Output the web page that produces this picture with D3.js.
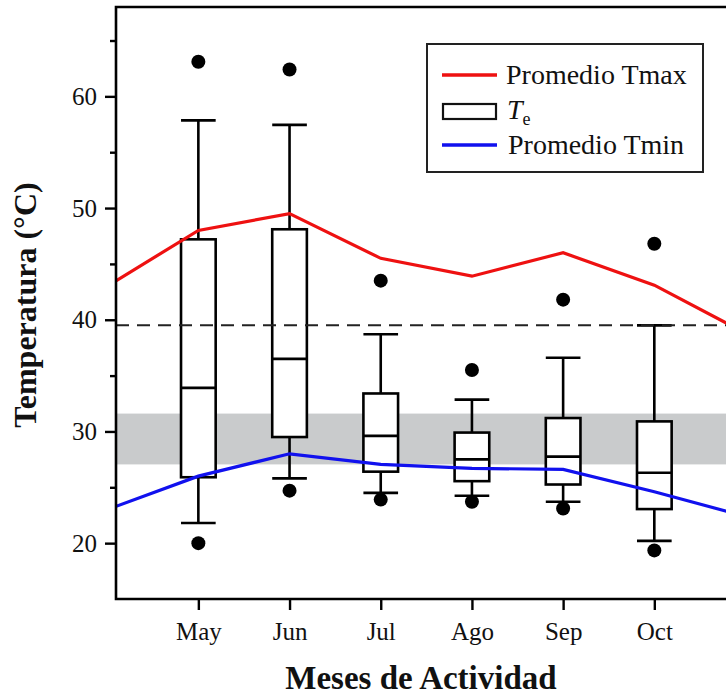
<!DOCTYPE html>
<html>
<head>
<meta charset="utf-8">
<script src="https://cdn.jsdelivr.net/npm/d3@7"></script>
<style>
  html, body { margin: 0; padding: 0; background: #fff; }
  svg { display: block; }
  text { font-family: "Liberation Serif", "DejaVu Serif", serif; fill: #111; }
</style>
</head>
<body>
<div id="chart"></div>
<script>
// ---- Data ----
const months = ["May", "Jun", "Jul", "Ago", "Sep", "Oct"];
const whiskerLow  = [21.8, 25.8, 24.5, 24.25, 23.7, 20.2];
const q1          = [25.9, 29.5, 26.4, 25.55, 25.25, 23.05];
const medians     = [33.9, 36.5, 29.6, 27.5, 27.75, 26.3];
const q3          = [47.2, 48.1, 33.4, 29.9, 31.2, 30.9];
const whiskerHigh = [57.85, 57.45, 38.7, 32.85, 36.6, 39.5];
const outlierLow  = [20.0, 24.7, 23.9, 23.7, 23.1, 19.35];
const outlierHigh = [63.1, 62.4, 43.5, 35.5, 41.8, 46.8];

// monthly mean lines (extend one month either side, clipped by the plot)
const lineMonthIndex = [-1, 0, 1, 2, 3, 4, 5, 6];
const tmaxMean = [43.0, 48.0, 49.5, 45.5, 43.9, 46.0, 43.1, 38.8];
const tminMean = [23.0, 26.0, 28.0, 27.05, 26.7, 26.6, 24.6, 22.4];

const bandRange = [27.05, 31.6];
const refLine = 39.5;
const yMajorTicks = [20, 30, 40, 50, 60];
const yMinorTicks = [25, 35, 45, 55, 65];
const legendLabels = ["Promedio Tmax", "T", "Promedio Tmin"];

// ---- Layout ----
const W = 726, H = 695;
const m = { left: 116, top: 7, right: 0, bottom: 96 };
const pw = W - m.left - m.right, ph = H - m.top - m.bottom;

const svg = d3.select("#chart").append("svg").attr("width", W).attr("height", H);

const x = d3.scaleLinear().domain([-0.903, 5.786]).range([m.left, m.left + pw]);
const y = d3.scaleLinear().domain([15, 68]).range([m.top + ph, m.top]);

svg.append("clipPath").attr("id", "clip")
  .append("rect").attr("x", m.left).attr("y", m.top).attr("width", pw).attr("height", ph);

const plot = svg.append("g").attr("clip-path", "url(#clip)");

// gray band
plot.append("rect")
  .attr("x", m.left).attr("width", pw)
  .attr("y", y(bandRange[1])).attr("height", y(bandRange[0]) - y(bandRange[1]))
  .attr("fill", "#c9cbcc");

// boxes
const boxW = x(0.19) - x(-0.19);
const sw = 2.6;
months.forEach((mo, i) => {
  const cx = x(i);
  const g = plot.append("g");
  g.append("line").attr("x1", cx).attr("x2", cx).attr("y1", y(whiskerHigh[i])).attr("y2", y(q3[i]))
    .attr("stroke", "#000").attr("stroke-width", sw);
  g.append("line").attr("x1", cx).attr("x2", cx).attr("y1", y(q1[i])).attr("y2", y(whiskerLow[i]))
    .attr("stroke", "#000").attr("stroke-width", sw);
  [whiskerHigh[i], whiskerLow[i]].forEach(v => {
    g.append("line").attr("x1", cx - boxW / 2).attr("x2", cx + boxW / 2)
      .attr("y1", y(v)).attr("y2", y(v)).attr("stroke", "#000").attr("stroke-width", sw);
  });
  g.append("rect").attr("x", cx - boxW / 2).attr("width", boxW)
    .attr("y", y(q3[i])).attr("height", y(q1[i]) - y(q3[i]))
    .attr("fill", "#fff").attr("stroke", "#000").attr("stroke-width", sw);
  g.append("line").attr("x1", cx - boxW / 2).attr("x2", cx + boxW / 2)
    .attr("y1", y(medians[i])).attr("y2", y(medians[i])).attr("stroke", "#000").attr("stroke-width", sw);
  [outlierHigh[i], outlierLow[i]].forEach(v => {
    g.append("circle").attr("cx", cx).attr("cy", y(v)).attr("r", 7).attr("fill", "#000");
  });
});

// dashed reference line
plot.append("line").attr("x1", m.left).attr("x2", m.left + pw)
  .attr("y1", y(refLine)).attr("y2", y(refLine))
  .attr("stroke", "#222").attr("stroke-width", 2).attr("stroke-dasharray", "13,8");

// mean lines
const lineGen = vals => d3.line().x((d, i) => x(lineMonthIndex[i])).y(d => y(d))(vals);
plot.append("path").attr("d", lineGen(tmaxMean)).attr("fill", "none")
  .attr("stroke", "#ee1111").attr("stroke-width", 3.2);
plot.append("path").attr("d", lineGen(tminMean)).attr("fill", "none")
  .attr("stroke", "#1111ee").attr("stroke-width", 3.2);

// frame: left axis, top, bottom
const frame = svg.append("g").attr("stroke", "#000").attr("stroke-width", 2.6).attr("fill", "none");
frame.append("path").attr("d", `M${W},${m.top}H${m.left}V${m.top + ph}H${W}`);

// y axis ticks
const yAxis = svg.append("g").attr("transform", `translate(${m.left},0)`)
  .call(d3.axisLeft(y).tickValues(yMajorTicks).tickSize(11).tickPadding(8).tickFormat(d3.format("d")));
yAxis.select(".domain").remove();
yAxis.selectAll(".tick line").attr("stroke", "#000").attr("stroke-width", 2.4);
yAxis.selectAll(".tick text").style("font-size", "25px").style("font-family", "Liberation Serif").attr("fill", "#222");

const yMinor = svg.append("g").attr("transform", `translate(${m.left},0)`)
  .call(d3.axisLeft(y).tickValues(yMinorTicks).tickSize(6).tickFormat(""));
yMinor.select(".domain").remove();
yMinor.selectAll(".tick line").attr("stroke", "#000").attr("stroke-width", 2.4);

// x axis ticks
const xAxis = svg.append("g").attr("transform", `translate(0,${m.top + ph})`)
  .call(d3.axisBottom(x).tickValues(d3.range(months.length)).tickSize(11).tickPadding(12)
    .tickFormat(i => months[i]));
xAxis.select(".domain").remove();
xAxis.selectAll(".tick line").attr("stroke", "#000").attr("stroke-width", 2.4);
xAxis.selectAll(".tick text").style("font-size", "25px").style("font-family", "Liberation Serif").attr("fill", "#222");

// axis titles
svg.append("text").attr("x", (m.left + W) / 2).attr("y", 689)
  .attr("text-anchor", "middle").style("font-size", "33px").style("font-weight", "bold")
  .text("Meses de Actividad");
svg.append("text").attr("transform", `translate(36,305) rotate(-90)`)
  .attr("text-anchor", "middle").style("font-size", "32px").style("font-weight", "bold")
  .text("Temperatura (°C)");

// legend
const lg = svg.append("g");
lg.append("rect").attr("x", 427).attr("y", 44).attr("width", 276).attr("height", 128)
  .attr("fill", "#fff").attr("stroke", "#222").attr("stroke-width", 2);
lg.append("line").attr("x1", 442).attr("x2", 497).attr("y1", 75).attr("y2", 75)
  .attr("stroke", "#ee1111").attr("stroke-width", 3.5);
lg.append("rect").attr("x", 443).attr("y", 104).attr("width", 53).attr("height", 15)
  .attr("fill", "#fff").attr("stroke", "#111").attr("stroke-width", 2.2);
lg.append("line").attr("x1", 442).attr("x2", 497).attr("y1", 145).attr("y2", 145)
  .attr("stroke", "#1111ee").attr("stroke-width", 3.5);
lg.append("text").attr("x", 506).attr("y", 84).style("font-size", "28px").text(legendLabels[0]);
const te = lg.append("text").attr("x", 507).attr("y", 119).style("font-size", "28px");
te.append("tspan").style("font-style", "italic").text(legendLabels[1]);
te.append("tspan").attr("dy", 6).style("font-size", "18px").text("e");
lg.append("text").attr("x", 508).attr("y", 154).style("font-size", "28px").text(legendLabels[2]);
</script>
</body>
</html>
